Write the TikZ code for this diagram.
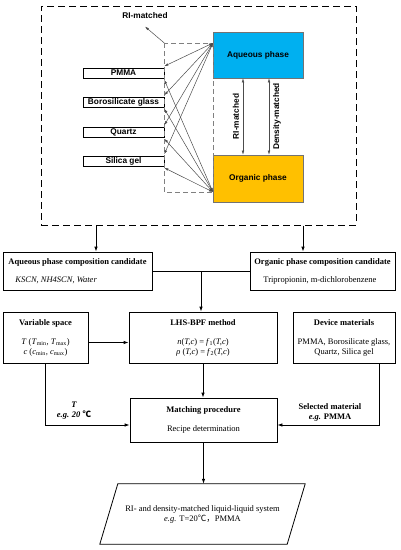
\documentclass[tikz,border=0pt]{standalone}
\usepackage{fontspec}
\setmainfont{Liberation Serif}
\newfontfamily\arialfont{Liberation Sans}
\newfontfamily\cjk{Noto Sans CJK SC}
\usetikzlibrary{arrows.meta,calc}
\definecolor{aqblue}{RGB}{0,176,240}
\definecolor{orgyel}{RGB}{255,192,0}

\begin{document}
\begin{tikzpicture}[x=1pt,y=-1pt,
  sans/.style={font=\arialfont\bfseries\fontsize{8.3}{9.5}\selectfont},
  serif/.style={font=\fontsize{8.5}{10}\selectfont},
  matbox/.style={draw,line width=0.6pt,sans,minimum width=81pt,minimum height=10pt,inner sep=0pt},
  phase/.style={draw=black!55,line width=0.6pt,sans,minimum width=90pt,minimum height=47pt,inner sep=0pt},
  stepbox/.style={draw,line width=0.8pt,serif,inner sep=0pt,align=center},
  candbox/.style={draw,line width=0.8pt,serif,inner ysep=0pt,align=left,minimum height=38pt},
  thin/.style={draw=black!70,line width=0.5pt},
  link/.style={thin,{Latex[length=4pt,width=2.6pt]}-{Latex[length=4pt,width=2.6pt]}},
  flow/.style={line width=0.8pt,-{Latex[length=5pt,width=3.5pt]}}]
\useasboundingbox (0,0) rectangle (400,550);

\node[draw,line width=1pt,dash pattern=on 7pt off 4pt,minimum width=315pt,minimum height=219pt,inner sep=0pt] (panel) at (198.5,115.5) {};

\node[phase,fill=aqblue,minimum height=46pt] (aq) at (258,55) {Aqueous phase};
\node[phase,fill=orgyel] (org) at (258,178.5) {Organic phase};
\coordinate (aqhub) at (213,43);
\coordinate (orghub) at (213,192);

\foreach \nm/\txt/\yy in {pmma/PMMA/73,boro/Borosilicate glass/102,quartz/Quartz/132,silica/Silica gel/161}
  \node[matbox] (\nm) at (123.5,\yy) {\txt};

\coordinate (dcorner) at (pmma.east |- aqhub);
\draw[gray,line width=0.6pt,dash pattern=on 5pt off 3pt] (dcorner) rectangle (orghub);

\foreach \nm in {pmma,boro,quartz,silica}{
  \draw[link] (aqhub) -- ([yshift=1.5pt]\nm.north east);
  \draw[link] (orghub) -- ([yshift=-1.5pt]\nm.south east);
}

\node[sans] (ri) at (145,16) {RI-matched};
\draw[thin,-{Latex[length=4pt,width=2.6pt]}] (dcorner) -- ([yshift=-4pt]ri.south);

\draw[link] ([xshift=-15pt]aq.south) -- ([xshift=-15pt]org.north);
\draw[link] ([xshift=11pt]aq.south) -- ([xshift=11pt]org.north);
\node[sans,rotate=90] (rilbl) at (236,116.5) {RI-matched};
\node[sans,rotate=90] (denlbl) at (277,116.5) {Density-matched};

\node[candbox,minimum width=149pt,inner xsep=4pt] (aqcand) at (77.5,271)
  {\textbf{Aqueous phase composition candidate}\\[8pt]\hspace*{7pt}\textit{KSCN, NH4SCN, Water}};
\node[candbox,minimum width=145pt,inner xsep=3pt] (orgcand) at (322.5,271)
  {\textbf{Organic phase composition candidate}\\[8pt]\hspace*{9pt}Tripropionin, m-dichlorobenzene};

\draw[flow] ([xshift=18.5pt]aqcand.north |- panel.south) -- ([xshift=18.5pt]aqcand.north);
\draw[flow] ([xshift=-19.5pt]orgcand.north |- panel.south) -- ([xshift=-19.5pt]orgcand.north);

\node[stepbox,minimum width=85pt,minimum height=51pt] (var) at (45.5,337.5)
  {\textbf{Variable space}\\[9pt]\textit{T} (\textit{T}\textsubscript{min}, \textit{T}\textsubscript{max})\\\textit{c} (\textit{c}\textsubscript{min}, \textit{c}\textsubscript{max})};
\node[stepbox,minimum width=148pt,minimum height=51pt] (lhs) at (203,337.5)
  {\textbf{LHS-BPF method}\\[9pt]\textit{n}(\textit{T,c}) = \textit{f}\textsubscript{1}(\textit{T,c})\\\textit{ρ} (\textit{T,c}) = \textit{f}\textsubscript{2}(\textit{T,c})};
\node[stepbox,minimum width=102pt,minimum height=51pt] (dev) at (344,337.5)
  {\textbf{Device materials}\\[9pt]PMMA, Borosilicate glass,\\Quartz, Silica gel};

\draw[line width=0.8pt] (aqcand.east) -- (orgcand.west);
\coordinate (join) at ($(aqcand.east)!0.5!(orgcand.west)$);
\draw[flow] (join) -- (join |- lhs.north);

\draw[flow] ([yshift=-5pt]var.east) -- ([yshift=-5pt]var.east -| lhs.west);

\node[stepbox,minimum width=147pt,minimum height=44pt] (match) at (203.5,420)
  {\textbf{Matching procedure}\\[9pt]Recipe determination};
\draw[flow] (lhs.south) -- (lhs.south |- match.north);

\draw[flow] (var.south) |- ([yshift=-5pt]match.west);
\draw[flow] ([xshift=35pt]dev.south) |- ([yshift=-5pt]match.east);
\node[serif,align=center] (tlbl) at (74,411) {\textbf{\textit{T}}\\\textbf{\textit{e.g.} \textit{20 {\cjk ℃}}}};
\node[serif,align=center] (sellbl) at (330,412.5) {\textbf{Selected material}\\\textbf{\textit{e.g.} PMMA}};

\node[serif,align=center,minimum width=187pt,minimum height=60pt,inner sep=0pt] (result) at (202.5,514)
  {RI- and density-matched liquid-liquid system\\\textit{e.g.} T=20{\cjk ℃，}PMMA};
\draw[line width=0.8pt] ([xshift=9pt]result.north west) -- ([xshift=9pt]result.north east)
  -- ([xshift=-9pt]result.south east) -- ([xshift=-9pt]result.south west) -- cycle;
\draw[flow] (match.south) -- (match.south |- result.north);
\end{tikzpicture}
\end{document}
